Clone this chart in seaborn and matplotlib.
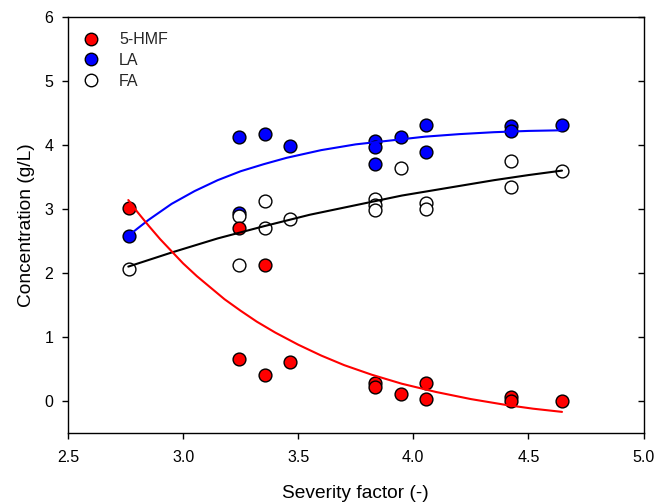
import matplotlib
matplotlib.use("Agg")
import matplotlib.pyplot as plt
from matplotlib.lines import Line2D
import seaborn as sns

# ---- data ----
hmf_x = [2.765, 3.243, 3.243, 3.355, 3.355, 3.465, 3.835, 3.835, 3.945, 4.057, 4.057, 4.423, 4.423, 4.646]
hmf_y = [3.01, 2.71, 0.66, 2.125, 0.40, 0.61, 0.285, 0.22, 0.11, 0.28, 0.036, 0.07, 0.005, 0.005]

la_x = [2.765, 3.243, 3.243, 3.355, 3.465, 3.835, 3.835, 3.835, 3.945, 4.057, 4.057, 4.423, 4.423, 4.646]
la_y = [2.58, 4.12, 2.93, 4.17, 3.99, 4.07, 3.97, 3.70, 4.13, 4.32, 3.89, 4.29, 4.22, 4.32]

fa_x = [2.765, 3.243, 3.243, 3.355, 3.355, 3.465, 3.835, 3.835, 3.835, 3.945, 4.057, 4.057, 4.423, 4.423, 4.646]
fa_y = [2.07, 2.89, 2.125, 3.13, 2.70, 2.85, 3.155, 3.067, 2.98, 3.64, 3.09, 3.00, 3.75, 3.35, 3.60]

# fitted curves
hmf_fit_x = [2.762, 2.80, 2.85, 2.90, 2.95, 3.00, 3.06, 3.12, 3.18, 3.25, 3.32, 3.40, 3.50, 3.60,
             3.70, 3.82, 3.95, 4.10, 4.25, 4.40, 4.52, 4.646]
hmf_fit_y = [3.14, 2.96, 2.74, 2.53, 2.34, 2.15, 1.95, 1.77, 1.59, 1.41, 1.24, 1.07, 0.88, 0.71,
             0.56, 0.41, 0.27, 0.14, 0.03, -0.06, -0.12, -0.17]

la_fit_x = [2.762, 2.80, 2.85, 2.95, 3.05, 3.15, 3.25, 3.35, 3.45, 3.60, 3.75, 3.90, 4.05, 4.20,
            4.35, 4.50, 4.646]
la_fit_y = [2.58, 2.69, 2.83, 3.08, 3.28, 3.45, 3.59, 3.70, 3.80, 3.92, 4.01, 4.07, 4.13, 4.17,
            4.20, 4.22, 4.23]

fa_fit_x = [2.762, 2.95, 3.15, 3.35, 3.55, 3.75, 3.95, 4.15, 4.35, 4.50, 4.646]
fa_fit_y = [2.10, 2.32, 2.54, 2.73, 2.91, 3.06, 3.21, 3.33, 3.45, 3.53, 3.60]

x_ticks = [2.5, 3.0, 3.5, 4.0, 4.5, 5.0]
y_ticks = [0, 1, 2, 3, 4, 5, 6]

sns.set_theme(style="ticks")
plt.rcParams['font.family'] = ['Liberation Sans', 'DejaVu Sans']

fig = plt.figure(figsize=(6.71, 5.03), dpi=100)
ax = fig.add_axes([68 / 671, 1 - 433 / 503, (643.5 - 68) / 671, (433 - 17) / 503])

ms = 85
sns.scatterplot(x=la_x, y=la_y, ax=ax, color="#0000ff", edgecolor="black",
                linewidth=1.0, s=ms, zorder=3, legend=False)
sns.scatterplot(x=fa_x, y=fa_y, ax=ax, color="white", edgecolor="black",
                linewidth=1.0, s=ms, zorder=3, legend=False)
sns.scatterplot(x=hmf_x, y=hmf_y, ax=ax, color="#ff0000", edgecolor="black",
                linewidth=1.0, s=ms, zorder=3, legend=False)

sns.lineplot(x=la_fit_x, y=la_fit_y, ax=ax, color="#0000ff", lw=1.5,
             sort=False, estimator=None, zorder=4)
sns.lineplot(x=fa_fit_x, y=fa_fit_y, ax=ax, color="black", lw=1.5,
             sort=False, estimator=None, zorder=4)
sns.lineplot(x=hmf_fit_x, y=hmf_fit_y, ax=ax, color="#ff0000", lw=1.5,
             sort=False, estimator=None, zorder=4)

ax.set_xlim(2.5, 5.0)
ax.set_ylim(-0.5, 6)
ax.set_xticks(x_ticks)
ax.set_xticklabels([f"{t:.1f}" for t in x_ticks])
ax.set_yticks(y_ticks)
ax.set_yticklabels([str(t) for t in y_ticks])

for s in ax.spines.values():
    s.set_visible(True)
    s.set_linewidth(1.0)
    s.set_color("black")

ax.tick_params(axis="both", which="major", direction="out", length=4.5, width=1.0,
               labelsize=11.5, colors="black")
ax.tick_params(axis="x", pad=8)
ax.tick_params(axis="y", pad=6, right=True, labelright=False)
# right ticks point inward
for t in ax.yaxis.get_major_ticks():
    t.tick2line.set_marker(matplotlib.lines.TICKLEFT)
    t.tick2line.set_markersize(4.5)

ax.set_xlabel("Severity factor (-)", fontsize=13.8, labelpad=14, color="black")
ax.set_ylabel("Concentration (g/L)", fontsize=13.8, labelpad=7, color="black")

handles = [
    Line2D([], [], ls="none", marker="o", markersize=9, markerfacecolor="#ff0000", markeredgecolor="black", markeredgewidth=1.0),
    Line2D([], [], ls="none", marker="o", markersize=9, markerfacecolor="#0000ff", markeredgecolor="black", markeredgewidth=1.0),
    Line2D([], [], ls="none", marker="o", markersize=9, markerfacecolor="white", markeredgecolor="black", markeredgewidth=1.0),
]
ax.legend(handles, ["5-HMF", "LA", "FA"], loc="upper left", frameon=False,
          fontsize=11.5, handlelength=1.0, handletextpad=1.25, labelspacing=0.36,
          borderaxespad=0.5, borderpad=0.45)

fig.savefig("out.png", dpi=100)
